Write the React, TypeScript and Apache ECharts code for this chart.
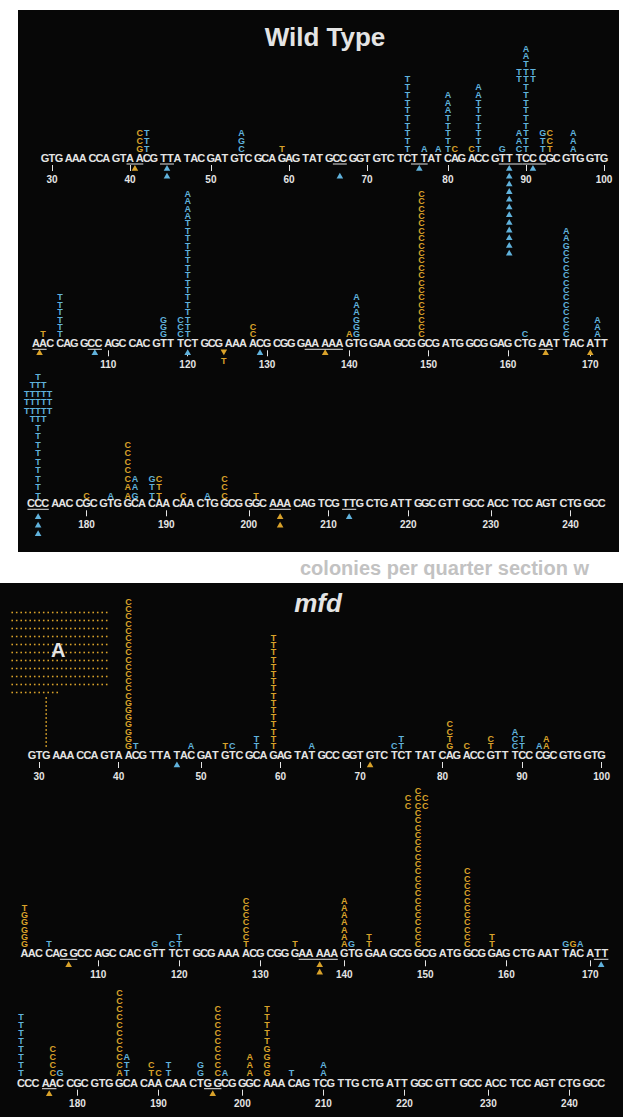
import React, { useEffect, useRef } from 'react';
import * as echarts from 'echarts';

// ---------- DATA ----------
const SEQ_ROWS = [
  'GTG AAA CCA GTA ACG TTA TAC GAT GTC GCA GAG TAT GCC GGT GTC TCT TAT CAG ACC GTT TCC CGC GTG GTG',
  'AAC CAG GCC AGC CAC GTT TCT GCG AAA ACG CGG GAA AAA GTG GAA GCG GCG ATG GCG GAG CTG AAT TAC ATT',
  'CCC AAC CGC GTG GCA CAA CAA CTG GCG GGC AAA CAG TCG TTG CTG ATT GGC GTT GCC ACC TCC AGT CTG GCC',
];
const ROW_START = [29, 101, 173];
const TICKS = [
  [30, 40, 50, 60, 70, 80, 90, 100],
  [110, 120, 130, 140, 150, 160, 170],
  [180, 190, 200, 210, 220, 230, 240],
];

// mutation stacks: [position, colour, letters bottom->top, first level, slot offset]
const WT_STACKS: any[] = [
  [41, 'y', 'GCC'], [42, 'b', 'TTT'], [54, 'b', 'CGA'], [59, 'y', 'T'],
  [75, 'b', 'TTTTTTTTTT'], [77, 'b', 'A'], [79, 'b', 'A'], [80, 'b', 'TTTTTAAA'],
  [81, 'y', 'C'], [83, 'y', 'C'], [84, 'b', 'TTTTTTTAA'], [87, 'b', 'G'],
  [89, 'b', 'CAA'], [89, 'b', 'TT', 10], [90, 'b', 'TTTTTTTTTTTTAA'], [91, 'b', 'TT', 10],
  [92, 'b', 'TTG'], [93, 'y', 'TCC'], [96, 'b', 'AAA'],
  [102, 'y', 'T'], [104, 'b', 'TTTTTT'], [117, 'b', 'GGG'], [119, 'b', 'CCC'],
  [120, 'b', 'TTTTTTTTTTTTTTTTAAAA'], [128, 'y', 'CC'], [140, 'y', 'A'], [141, 'b', 'GGGAAA'],
  [149, 'y', 'CCCCCCCCCCCCCCCCCCCC'], [162, 'b', 'C'], [167, 'b', 'CCCCCCCCCCCCGAA'], [171, 'b', 'AAA'],
  [174, 'b', 'TTTTTTTTTTTTTTT'], [174, 'b', 'TTTTT', 10, -0.8], [174, 'b', 'TTTTT', 10, 0.8],
  [174, 'b', 'TTT', 11, -1.6], [174, 'b', 'TTT', 11, 1.6],
  [180, 'y', 'C'], [183, 'b', 'A'], [185, 'y', 'AACCCCC'], [186, 'b', 'GAA'], [188, 'b', 'TTG'],
  [189, 'y', 'TTC'], [192, 'y', 'C'], [195, 'b', 'A'], [197, 'y', 'CCC'], [201, 'y', 'T'],
];
const MFD_STACKS: any[] = [
  [41, 'y', 'GGGGGGGCCCCCCCCCCCCCC'], [42, 'b', 'T'], [49, 'b', 'A'], [53, 'y', 'T'], [54, 'b', 'C'],
  [57, 'b', 'TT'], [59, 'y', 'TTTTTTTTTTTTTTTT'], [64, 'b', 'A'], [74, 'b', 'C'], [75, 'b', 'TT'],
  [81, 'y', 'GTCC'], [83, 'y', 'C'], [86, 'y', 'TC'], [89, 'b', 'CCA'], [90, 'b', 'TT'],
  [92, 'b', 'A'], [93, 'y', 'AA'],
  [101, 'y', 'GGGGGT'], [104, 'b', 'T'], [117, 'b', 'G'], [119, 'b', 'C'], [120, 'b', 'TT'],
  [128, 'y', 'TCCCCCC'], [134, 'y', 'T'], [140, 'y', 'AAAAAAA'], [141, 'b', 'G'], [143, 'y', 'TT'],
  [148, 'y', 'CC', 20], [149, 'y', 'CCCCCCCCCCCCCCCCCCCCCC'], [150, 'y', 'CC', 20],
  [155, 'y', 'CCCCCCCCCCC'], [158, 'y', 'TT'], [167, 'b', 'G'], [168, 'y', 'G'], [169, 'b', 'A'],
  [173, 'b', 'TTTTTTTT'], [177, 'y', 'CCCC'], [178, 'b', 'G'], [185, 'y', 'ACCCCCCCCCC'],
  [186, 'b', 'TTA'], [189, 'y', 'TC'], [190, 'y', 'C'], [191, 'b', 'TT'], [195, 'b', 'GG'],
  [197, 'y', 'CCCCCCCCC'], [198, 'b', 'A'], [201, 'y', 'AAA'], [203, 'y', 'GGGGTTTTT'],
  [206, 'b', 'T'], [210, 'b', 'AA'],
];
// frameshift triangles: [position, colour, count, first level below]
const WT_TRIANGLES: any[] = [
  [40.5, 'y', 1], [44.5, 'b', 2], [66.5, 'b', 1, 2], [76.5, 'b', 1], [88, 'b', 12], [91, 'b', 1],
  [101.5, 'y', 1], [108.5, 'b', 1], [120, 'b', 1], [129, 'b', 1], [137, 'y', 1], [164.5, 'y', 1],
  [170, 'y', 1], [174, 'b', 3], [204, 'y', 2], [212.5, 'b', 1],
];
const MFD_TRIANGLES: any[] = [
  [47, 'b', 1], [71, 'y', 1], [106.5, 'y', 1], [137, 'y', 2], [171.5, 'b', 1], [176.5, 'y', 1], [196.5, 'y', 1],
];
// insertions: [position, colour, inserted base]
const WT_INSERTIONS: any[] = [[124.5, 'y', 'T']];
const MFD_INSERTIONS: any[] = [];
// underlined runs
const WT_RUNS = [[40, 41], [44, 45], [66, 67], [76, 77], [87, 89], [90, 92], [101, 102], [108, 109],
  [135, 139], [164, 165], [173, 175], [203, 205], [212, 213]];
const MFD_RUNS = [[106, 107], [135, 139], [171, 172], [176, 177], [196, 197]];
// hotspot too large to stack: dotted cluster
const MFD_CLUSTER = { pos: 31, color: 'y', letter: 'A', fullRows: 10, perRow: 22, lastRow: 11, stem: 13 };

// ---------- LAYOUT ----------
const K = 3.4; // slot units per codon
const WT_LAYOUT = [
  { x0: 45, cw: 23.7, seqY: 158, sp: 7.7, up: 9.3, down: 10 },
  { x0: 36, cw: 24.1, seqY: 343.3, sp: 7.4, up: 9, down: 9 },
  { x0: 31, cw: 24.2, seqY: 503.3, sp: 8.5, up: 7.8, down: 13 },
];
const MFD_LAYOUT = [
  { x0: 32, cw: 24.15, seqY: 755, sp: 7.2, up: 9, down: 9.5 },
  { x0: 24.5, cw: 24.6, seqY: 953.3, sp: 7.3, up: 9, down: 11 },
  { x0: 21, cw: 24.6, seqY: 1082.7, sp: 8.0, up: 10, down: 10.5 },
];
const FONT = '"Liberation Sans", Arial, Helvetica, sans-serif';
const WHITE = '#e4e4e4';
const PANEL = '#070707';
const COL: any = { y: '#d9a22a', b: '#60b2dc' };

function rowOf(p: number) {
  return Math.min(2, Math.max(0, Math.floor((Math.floor(p) - 29) / 72)));
}
function slotIn(row: number, q: number) {
  const rel = q - ROW_START[row];
  const c = Math.floor(rel / 3);
  return c * K + (rel - 3 * c);
}
function slotOf(row: number, p: number) {
  const b = Math.floor(p);
  const f = p - b;
  const s0 = slotIn(row, b);
  return f ? s0 + f * (slotIn(row, b + 1) - s0) : s0;
}

function buildItems(panel: any, row: number, L: any) {
  const items: any[] = [];
  const seq = SEQ_ROWS[row];
  let n = ROW_START[row];
  for (const ch of seq) {
    if (ch === ' ') continue;
    items.push({ kind: 'seq', x: slotOf(row, n), y: 0, text: ch });
    n++;
  }
  const upY = (lvl: number) => L.up / L.sp + lvl - 1;
  const downY = (k: number) => -(L.down / L.sp + k - 1);
  panel.stacks.forEach((s: any) => {
    const [pos, c, letters, start = 1, dx = 0] = s;
    if (rowOf(pos) !== row) return;
    const x = slotOf(row, pos) + dx;
    letters.split('').forEach((ch: string, i: number) => {
      if (ch !== ' ') items.push({ kind: 'mut', x, y: upY(start + i), text: ch, color: COL[c] });
    });
  });
  panel.tris.forEach((t: any) => {
    const [pos, c, count, start = 1] = t;
    if (rowOf(pos) !== row) return;
    for (let k = start; k < start + count; k++) items.push({ kind: 'tri', x: slotOf(row, pos), y: downY(k), color: COL[c] });
  });
  panel.ins.forEach((t: any) => {
    const [pos, c, base] = t;
    if (rowOf(pos) !== row) return;
    items.push({ kind: 'tri', x: slotOf(row, pos), y: downY(1), color: COL[c], down: true });
    items.push({ kind: 'mut', x: slotOf(row, pos), y: downY(2) - 0.2, text: base, color: COL[c] });
  });
  panel.runs.forEach((r: any) => {
    if (rowOf(r[0]) !== row) return;
    items.push({ kind: 'run', x: slotOf(row, r[0]) - 0.5, x2: slotOf(row, r[1]) + 0.5, y: -6 / L.sp });
  });
  if (panel.cluster && rowOf(panel.cluster.pos) === row) {
    items.push({ kind: 'cluster', x: slotOf(row, panel.cluster.pos), y: upY(1), data: panel.cluster });
  }
  return items;
}

function makeRender(items: any[]) {
  return (params: any, api: any) => {
    const it = items[params.dataIndex];
    const [px, py] = api.coord([it.x, it.y]);
    const textStyle = (text: string, fill: string, size: number) => ({
      text, fill, font: `bold ${size}px ${FONT}`,
      align: 'center', verticalAlign: 'middle', textAlign: 'center', textVerticalAlign: 'middle',
    });
    if (it.kind === 'seq') return { type: 'text', x: px, y: py, style: textStyle(it.text, WHITE, 11) };
    if (it.kind === 'mut') return { type: 'text', x: px, y: py, style: textStyle(it.text, it.color, 9) };
    if (it.kind === 'tri') {
      const pts = it.down
        ? [[px - 3.3, py - 2.8], [px + 3.3, py - 2.8], [px, py + 3]]
        : [[px, py - 3], [px - 3.3, py + 2.8], [px + 3.3, py + 2.8]];
      return { type: 'polygon', shape: { points: pts }, style: { fill: it.color } };
    }
    if (it.kind === 'run') {
      const [p2x] = api.coord([it.x2, it.y]);
      return { type: 'line', shape: { x1: px, y1: py, x2: p2x, y2: py }, style: { stroke: WHITE, lineWidth: 1 } };
    }
    if (it.kind === 'cluster') {
      const d = it.data;
      const fill = COL[d.color];
      const children: any[] = [];
      const dot = (x: number, y: number) => children.push({ type: 'rect', shape: { x: x - 0.8, y: y - 0.8, width: 1.6, height: 1.6 }, style: { fill } });
      for (let i = 0; i < d.stem; i++) dot(px, py - i * 4);
      const lastY = py - (d.stem - 1) * 4 - 5.5;
      const left = px - 34;
      for (let i = 0; i < d.lastRow; i++) dot(left + i * 4.5, lastY);
      for (let r = 1; r <= d.fullRows; r++) for (let i = 0; i < d.perRow; i++) dot(left + i * 4.5, lastY - r * 8);
      children.push({ type: 'text', x: px + 12, y: lastY - (d.fullRows + 1) * 4 + 1, style: textStyle(d.letter, WHITE, 20) });
      return { type: 'group', children };
    }
    return null;
  };
}

export default function App() {
  const ref = useRef<HTMLDivElement>(null);
  useEffect(() => {
    const el = ref.current!;
    const chart = echarts.init(el, null, { renderer: 'svg' });
    const grid: any[] = [];
    const xAxis: any[] = [];
    const yAxis: any[] = [];
    const series: any[] = [];
    const panels = [
      { layout: WT_LAYOUT, stacks: WT_STACKS, tris: WT_TRIANGLES, runs: WT_RUNS, ins: WT_INSERTIONS, cluster: null },
      { layout: MFD_LAYOUT, stacks: MFD_STACKS, tris: MFD_TRIANGLES, runs: MFD_RUNS, ins: MFD_INSERTIONS, cluster: MFD_CLUSTER },
    ];
    let gi = 0;
    panels.forEach((panel) => {
      panel.layout.forEach((L: any, row: number) => {
        const vmin = -7 / L.sp;
        const vmax = Math.min(24, Math.floor((L.seqY - 4) / L.sp));
        const sMax = 23 * K + 2;
        const lw = L.cw / K;
        grid.push({ left: L.x0, top: L.seqY - vmax * L.sp, width: sMax * lw, height: (vmax - vmin) * L.sp });
        const tickSlots = TICKS[row].map((p) => slotOf(row, p));
        const labelMap = new Map<number, string>();
        TICKS[row].forEach((p, i) => labelMap.set(Math.round(tickSlots[i] * 100), String(p)));
        xAxis.push({
          gridIndex: gi, type: 'value', min: 0, max: sMax, position: 'bottom',
          axisLine: { show: false, onZero: false }, splitLine: { show: false },
          axisTick: { show: true, customValues: tickSlots, length: 6, lineStyle: { color: WHITE, width: 1 } },
          axisLabel: {
            show: true, customValues: tickSlots, margin: 9, color: WHITE, fontSize: 10, fontWeight: 'bold',
            fontFamily: FONT, formatter: (v: number) => labelMap.get(Math.round(v * 100)) ?? '',
          },
        });
        yAxis.push({ gridIndex: gi, type: 'value', min: vmin, max: vmax, show: false });
        const items = buildItems(panel, row, L);
        series.push({
          type: 'custom', xAxisIndex: gi, yAxisIndex: gi, clip: false, silent: true,
          data: items.map((it) => [it.x, it.y]), renderItem: makeRender(items), z: 3,
        });
        gi++;
      });
    });
    chart.setOption({
      animation: false,
      backgroundColor: '#ffffff',
      grid, xAxis, yAxis, series,
      graphic: [
        { type: 'rect', z: -10, shape: { x: 18, y: 10, width: 601, height: 542 }, style: { fill: PANEL } },
        { type: 'text', z: -9, x: 300, y: 568, style: { text: 'colonies per quarter section w', fill: '#c2c2c2', font: `bold 20px ${FONT}`, textAlign: 'left', textVerticalAlign: 'middle', align: 'left', verticalAlign: 'middle' } },
        { type: 'rect', z: -8, shape: { x: 0, y: 583, width: 623, height: 534 }, style: { fill: PANEL } },
        { type: 'text', z: 5, x: 325, y: 37, style: { text: 'Wild Type', fill: WHITE, font: `bold 26px ${FONT}`, textAlign: 'center', textVerticalAlign: 'middle', align: 'center', verticalAlign: 'middle' } },
        { type: 'text', z: 5, x: 318, y: 603, style: { text: 'mfd', fill: WHITE, font: `italic bold 26px ${FONT}`, textAlign: 'center', textVerticalAlign: 'middle', align: 'center', verticalAlign: 'middle' } },
      ],
    });
    return () => chart.dispose();
  }, []);
  return <div ref={ref} style={{ position: 'absolute', left: 0, top: 0, width: 628, height: 1117 }} />;
}
